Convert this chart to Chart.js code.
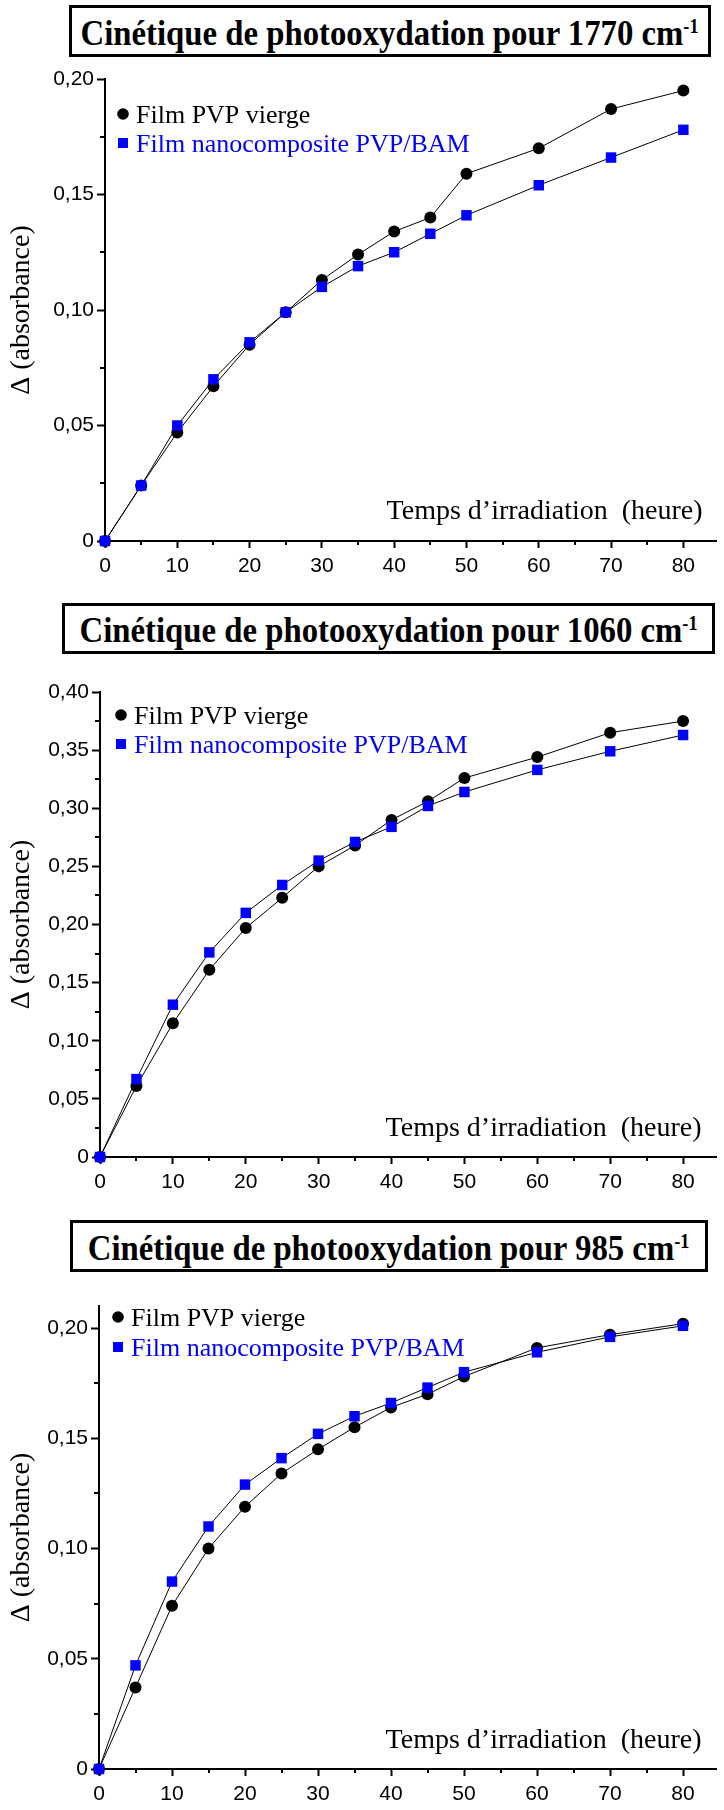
<!DOCTYPE html>
<html>
<head>
<meta charset="utf-8">
<script src="https://cdn.jsdelivr.net/npm/chart.js@4.4.0/dist/chart.umd.min.js"></script>
<style>
  html, body { margin: 0; padding: 0; background: #fff; }
  body { width: 724px; height: 1810px; position: relative; overflow: hidden; }
  .title-box {
    position: absolute; box-sizing: border-box; border: 3px solid #000;
    display: flex; align-items: center; justify-content: center;
    font-family: 'Liberation Serif', 'Times New Roman', serif; font-weight: bold;
    font-size: 36px; color: #000; white-space: nowrap; padding-top: 3px;
  }
  .title-box span { display: inline-block; transform: scaleX(0.91); }
  .title-box sup { font-size: 20px; position: relative; top: -0.6em; vertical-align: baseline; line-height: 0; }
  canvas { position: absolute; left: 0; }
</style>
</head>
<body>
<div class="title-box" style="left:69px;top:5px;width:642px;height:52px"><span>Cinétique de photooxydation pour 1770 cm<sup>-1</sup></span></div>
<div class="title-box" style="left:62px;top:603px;width:653px;height:51px"><span>Cinétique de photooxydation pour 1060 cm<sup>-1</sup></span></div>
<div class="title-box" style="left:70px;top:1220px;width:638px;height:52px"><span>Cinétique de photooxydation pour 985 cm<sup>-1</sup></span></div>

<canvas id="c1" width="724" height="521" style="top:60px"></canvas>
<canvas id="c2" width="724" height="532" style="top:665px"></canvas>
<canvas id="c3" width="724" height="525" style="top:1285px"></canvas>

<script>
// irradiation time (hours)
const hours = [0, 5, 10, 15, 20, 25, 30, 35, 40, 45, 50, 60, 70, 80];

// 1770 cm-1
const pvp1770  = [0, 0.024, 0.047, 0.067, 0.085, 0.099, 0.113, 0.124, 0.134, 0.140, 0.159, 0.170, 0.187, 0.195];
const nano1770 = [0, 0.024, 0.050, 0.070, 0.086, 0.099, 0.110, 0.119, 0.125, 0.133, 0.141, 0.154, 0.166, 0.178];

// 1060 cm-1
const pvp1060  = [0, 0.061, 0.115, 0.161, 0.197, 0.223, 0.250, 0.268, 0.290, 0.306, 0.326, 0.344, 0.365, 0.375];
const nano1060 = [0, 0.067, 0.131, 0.176, 0.210, 0.234, 0.255, 0.271, 0.284, 0.302, 0.314, 0.333, 0.349, 0.363];

// 985 cm-1
const pvp985  = [0, 0.037, 0.074, 0.100, 0.119, 0.134, 0.145, 0.155, 0.164, 0.170, 0.178, 0.191, 0.197, 0.202];
const nano985 = [0, 0.047, 0.085, 0.110, 0.129, 0.141, 0.152, 0.160, 0.166, 0.173, 0.180, 0.189, 0.196, 0.201];

const seriesNames = ['Film PVP vierge', 'Film nanocomposite PVP/BAM'];
const xTitle = 'Temps d\u2019irradiation  (heure)';
const yTitle = '\u0394 (absorbance)';

const SERIF = "'Liberation Serif', 'Times New Roman', serif";
const SANS = "'Liberation Sans', Arial, sans-serif";

const isMajorY = v => Math.round(v * 1000) % 50 === 0;
const isMajorX = v => Math.round(v) % 10 === 0;

// short minor ticks (the library draws only one tick length)
const minorTicks = {
  id: 'minorTicks',
  afterDraw(chart) {
    const { ctx } = chart;
    const { x, y } = chart.scales;
    ctx.save();
    ctx.strokeStyle = '#000';
    ctx.lineWidth = 2;
    x.ticks.forEach(t => {
      if (isMajorX(t.value)) return;
      const px = Math.round(x.getPixelForValue(t.value));
      ctx.beginPath(); ctx.moveTo(px, x.top); ctx.lineTo(px, x.top + 4); ctx.stroke();
    });
    y.ticks.forEach(t => {
      if (isMajorY(t.value)) return;
      const py = Math.round(y.getPixelForValue(t.value));
      ctx.beginPath(); ctx.moveTo(y.right, py); ctx.lineTo(y.right - 5, py); ctx.stroke();
    });
    ctx.restore();
  }
};

// x title sits inside the plot, right aligned above the axis
const innerXTitle = {
  id: 'innerXTitle',
  afterDraw(chart, args, opts) {
    const { ctx, chartArea } = chart;
    ctx.save();
    ctx.font = '28px ' + SERIF;
    ctx.fillStyle = '#000';
    ctx.textAlign = 'right';
    ctx.textBaseline = 'alphabetic';
    ctx.fillText(xTitle, chartArea.right - opts.right, chartArea.bottom - opts.above);
    ctx.restore();
  }
};

// legend in the top left corner of the plot
const cornerLegend = {
  id: 'cornerLegend',
  afterDraw(chart, args, opts) {
    const { ctx, chartArea } = chart;
    ctx.save();
    ctx.font = '26px ' + SERIF;
    ctx.textBaseline = 'alphabetic';
    ctx.textAlign = 'left';
    chart.data.datasets.slice().sort((a, b) => a.legendIndex - b.legendIndex).forEach((ds, i) => {
      const cx = chartArea.left + opts.x;
      const cy = chartArea.top + opts.y + i * opts.gap;
      ctx.fillStyle = ds.pointBackgroundColor;
      if (ds.pointStyle === 'rect') {
        ctx.fillRect(cx - 5, cy - 5, 10, 10);
      } else {
        ctx.beginPath(); ctx.arc(cx, cy, 5.8, 0, Math.PI * 2); ctx.fill();
      }
      ctx.fillStyle = ds.legendColor;
      ctx.fillText(ds.label, cx + 13, cy + 9);
    });
    ctx.restore();
  }
};

function makeChart(id, pvp, nano, o) {
  const pts = arr => hours.map((h, i) => ({ x: h, y: arr[i] }));
  return new Chart(document.getElementById(id), {
    type: 'line',
    data: {
      datasets: [
        {
          label: seriesNames[1], legendIndex: 1, legendColor: '#0000ff',
          data: pts(nano), order: 1,
          borderColor: '#000', borderWidth: 1,
          pointStyle: 'rect', pointRadius: 7.4, pointBackgroundColor: '#0000ff',
          pointBorderColor: '#0000ff', pointBorderWidth: 0, clip: false
        },
        {
          label: seriesNames[0], legendIndex: 0, legendColor: '#000',
          data: pts(pvp), order: 2,
          borderColor: '#000', borderWidth: 1,
          pointStyle: 'circle', pointRadius: 6, pointBackgroundColor: '#000',
          pointBorderColor: '#000', pointBorderWidth: 0, clip: false
        }
      ]
    },
    options: {
      responsive: false,
      animation: false,
      devicePixelRatio: 1,
      layout: { padding: { top: o.top, right: o.right, left: 0, bottom: 0 } },
      plugins: {
        legend: { display: false },
        tooltip: { enabled: false },
        innerXTitle: { right: o.xtRight, above: o.xtAbove },
        cornerLegend: o.legend
      },
      scales: {
        x: {
          type: 'linear', min: 0, max: o.xMax,
          border: { display: true, color: '#000', width: 2 },
          grid: {
            drawOnChartArea: false, drawTicks: true, tickLength: 7, tickWidth: 2,
            tickColor: c => (c.tick && isMajorX(c.tick.value)) ? '#000' : 'rgba(0,0,0,0)'
          },
          ticks: {
            stepSize: 5, includeBounds: false, autoSkip: false, maxRotation: 0,
            padding: 6, color: '#000', font: { family: SANS, size: 21 },
            callback: v => isMajorX(v) ? String(v) : ''
          },
          afterFit: s => { s.height = o.bottom; }
        },
        y: {
          type: 'linear', min: 0, max: o.yMax,
          border: { display: true, color: '#000', width: 2 },
          grid: {
            drawOnChartArea: false, drawTicks: true, tickLength: 8, tickWidth: 2,
            tickColor: c => (c.tick && isMajorY(c.tick.value)) ? '#000' : 'rgba(0,0,0,0)'
          },
          ticks: {
            stepSize: 0.025, includeBounds: false, autoSkip: false,
            padding: 3, color: '#000', font: { family: SANS, size: 21 },
            callback: v => {
              if (!isMajorY(v)) return '';
              return Math.round(v * 1000) === 0 ? '0' : v.toFixed(2).replace('.', ',');
            }
          },
          title: {
            display: true, text: yTitle, color: '#000',
            font: { family: SERIF, size: 28 }, padding: { top: 5, bottom: 0 }
          },
          afterFit: s => { s.width = o.left; }
        }
      }
    },
    plugins: [minorTicks, innerXTitle, cornerLegend]
  });
}

makeChart('c1', pvp1770, nano1770, {
  yMax: 0.20, xMax: 84.6, top: 19, right: 2.5, left: 105, bottom: 40,
  xtRight: 14, xtAbove: 22, legend: { x: 18, y: 35, gap: 29 }
});
makeChart('c2', pvp1060, nano1060, {
  yMax: 0.40, xMax: 84.6, top: 27, right: 1.1, left: 100, bottom: 40,
  xtRight: 15, xtAbove: 21, legend: { x: 21, y: 23, gap: 29 }
});
makeChart('c3', pvp985, nano985, {
  yMax: 0.21, xMax: 84.6, top: 21, right: 2.1, left: 99, bottom: 41,
  xtRight: 15, xtAbove: 21, legend: { x: 19, y: 11, gap: 30 }
});
</script>
</body>
</html>
